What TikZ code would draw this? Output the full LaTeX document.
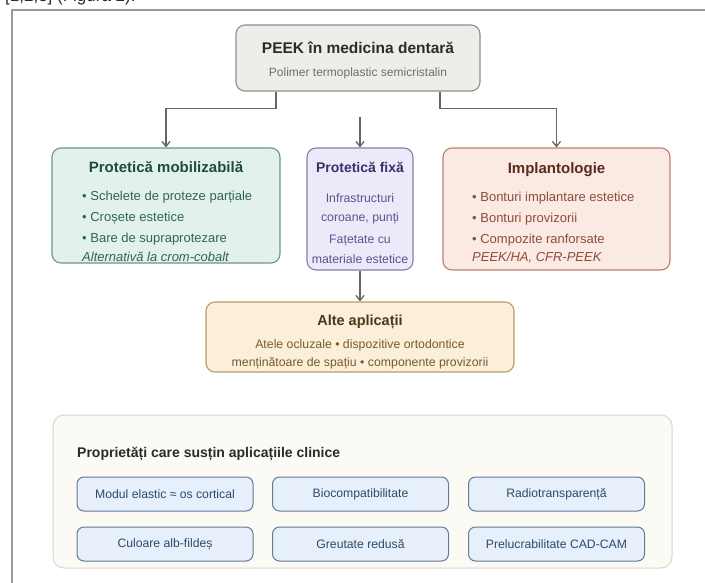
\documentclass[tikz,border=0pt]{standalone}
\usepackage{fontspec}
\setmainfont{Liberation Sans}
\usetikzlibrary{arrows.meta,positioning}
\definecolor{framegray}{HTML}{9A9A9A}
\definecolor{conncol}{HTML}{666666}
\definecolor{peekfill}{HTML}{EFEDE9}
\definecolor{peekdraw}{HTML}{8E8E8E}
\definecolor{peektext}{HTML}{2B2B2B}
\definecolor{peeksub}{HTML}{6E6E6E}
\definecolor{grfill}{HTML}{E2F1EB}
\definecolor{grdraw}{HTML}{6A9786}
\definecolor{grtitle}{HTML}{1D4D3C}
\definecolor{grtext}{HTML}{316553}
\definecolor{pufill}{HTML}{ECEAF8}
\definecolor{pudraw}{HTML}{8480B0}
\definecolor{putitle}{HTML}{37316E}
\definecolor{putext}{HTML}{5A548E}
\definecolor{rdfill}{HTML}{FBEAE3}
\definecolor{rddraw}{HTML}{B9806E}
\definecolor{rdtitle}{HTML}{5A2A1E}
\definecolor{rdtext}{HTML}{8C4C3C}
\definecolor{ylfill}{HTML}{FBEFDA}
\definecolor{yldraw}{HTML}{B89C66}
\definecolor{yltitle}{HTML}{4A3818}
\definecolor{yltext}{HTML}{7A5A2A}
\definecolor{pnfill}{HTML}{FBFAF5}
\definecolor{pndraw}{HTML}{D9D7D0}
\definecolor{pntitle}{HTML}{2A2A2A}
\definecolor{bxfill}{HTML}{E6EFFA}
\definecolor{bxdraw}{HTML}{617B9A}
\definecolor{bxtext}{HTML}{2E4A6A}
\tikzset{
  mainbox/.style={draw, line width=1.1pt, rounded corners=9pt, inner sep=0pt},
  propbox/.style={draw=bxdraw, fill=bxfill, line width=1pt, rounded corners=7pt, inner sep=0pt,
    minimum width=176pt, minimum height=34pt, text=bxtext, font=\fontsize{12.2}{14}\selectfont},
  conn/.style={draw=conncol, line width=1.3pt, -{Straight Barb[length=5pt,width=8pt]}},
  ttl/.style={font=\bfseries\fontsize{15}{17}\selectfont, inner sep=0pt},
  itm/.style={font=\fontsize{13}{15}\selectfont, inner sep=0pt, anchor=west},
  ctr/.style={font=\fontsize{12.3}{14}\selectfont, inner sep=0pt},
}
\begin{document}
\begin{tikzpicture}[x=1pt,y=-1pt]
\useasboundingbox (0,0) rectangle (705,582);
\clip (0,0) rectangle (705,582);
\fill[white] (0,0) rectangle (705,582);
% cut-off text above the figure
\node[anchor=base west, inner sep=0pt, text=peektext, font=\fontsize{17}{17}\selectfont] (topref) at (5,1) {[1,2,3] (Figura 2).};
% outer frame
\draw[framegray, line width=1.5pt] (12,590) -- (12,10) -- (710,10);

% PEEK
\node[mainbox, draw=peekdraw, fill=peekfill, minimum width=244pt, minimum height=66pt] (peek) at (358,58) {};
\node[ttl, text=peektext, font=\bfseries\fontsize{15.5}{17}\selectfont] (peekt) at (358,48) {PEEK în medicina dentară};
\node[ctr, text=peeksub, font=\fontsize{12}{14}\selectfont] (peeks) at (358,73) {Polimer termoplastic semicristalin};

% Green
\node[mainbox, draw=grdraw, fill=grfill, minimum width=228pt, minimum height=115pt] (green) at (166,205.5) {};
\node[ttl, text=grtitle] (greent) at (166,167) {Protetică mobilizabilă};
\node[itm, text=grtext] (g1) at (82,197) {• Schelete de proteze parțiale};
\node[itm, text=grtext] (g2) at (82,218) {• Croșete estetice};
\node[itm, text=grtext] (g3) at (82,239) {• Bare de supraprotezare};
\node[itm, text=grtext, font=\itshape\fontsize{13}{15}\selectfont] (g4) at (82,257) {Alternativă la crom-cobalt};

% Purple
\node[mainbox, draw=pudraw, fill=pufill, minimum width=106pt, minimum height=122pt] (mid) at (360,209) {};
\node[ttl, text=putitle, font=\bfseries\fontsize{14}{16}\selectfont] (midt) at (360,167) {Protetică fixă};
\node[ctr, text=putext] (m1) at (360,198) {Infrastructuri};
\node[ctr, text=putext] (m2) at (360,218) {coroane, punți};
\node[ctr, text=putext] (m3) at (360,241) {Fațetate cu};
\node[ctr, text=putext] (m4) at (360,259) {materiale estetice};

% Red
\node[mainbox, draw=rddraw, fill=rdfill, minimum width=227pt, minimum height=122pt] (impl) at (556.5,209) {};
\node[ttl, text=rdtitle] (implt) at (556.5,170) {Implantologie};
\node[itm, text=rdtext] (r1) at (472,198) {• Bonturi implantare estetice};
\node[itm, text=rdtext] (r2) at (472,219) {• Bonturi provizorii};
\node[itm, text=rdtext] (r3) at (472,240) {• Compozite ranforsate};
\node[itm, text=rdtext, font=\itshape\fontsize{13}{15}\selectfont] (r4) at (472,258) {PEEK/HA, CFR-PEEK};

% Yellow
\node[mainbox, draw=yldraw, fill=ylfill, minimum width=308pt, minimum height=70pt] (alte) at (360,337) {};
\node[ttl, text=yltitle, font=\bfseries\fontsize{14.5}{16}\selectfont] (altet) at (360,322) {Alte aplicații};
\node[ctr, text=yltext] (a1) at (360,345) {Atele ocluzale • dispozitive ortodontice};
\node[ctr, text=yltext] (a2) at (360,363) {menținătoare de spațiu • componente provizorii};

% connectors
\draw[conn] ([xshift=-82pt]peek.south) -- ++(0,17) -| (green.north);
\draw[conn] ([xshift=82pt]peek.south) -- ++(0,17) -| (impl.north);
\coordinate (mtop) at (360,117);
\draw[conn] (mtop) -- (mid.north);
\draw[conn] (mid.south) -- (alte.north);

% panel
\node[draw=pndraw, fill=pnfill, line width=1pt, rounded corners=11pt, minimum width=619pt, minimum height=153pt, inner sep=0pt] (panel) at (362.5,491.5) {};
\node[anchor=west, inner sep=0pt, text=pntitle, font=\bfseries\fontsize{14}{16}\selectfont] (panelt) at (77,454) {Proprietăți care susțin aplicațiile clinice};
\node[propbox] (p1) at (165,494) {Modul elastic ≈ os cortical};
\node[propbox] (p2) at (360.5,494) {Biocompatibilitate};
\node[propbox] (p3) at (556.5,494) {Radiotransparență};
\node[propbox] (p4) at (165,544) {Culoare alb-fildeș};
\node[propbox] (p5) at (360.5,544) {Greutate redusă};
\node[propbox] (p6) at (556.5,544) {Prelucrabilitate CAD-CAM};
\end{tikzpicture}
\end{document}
